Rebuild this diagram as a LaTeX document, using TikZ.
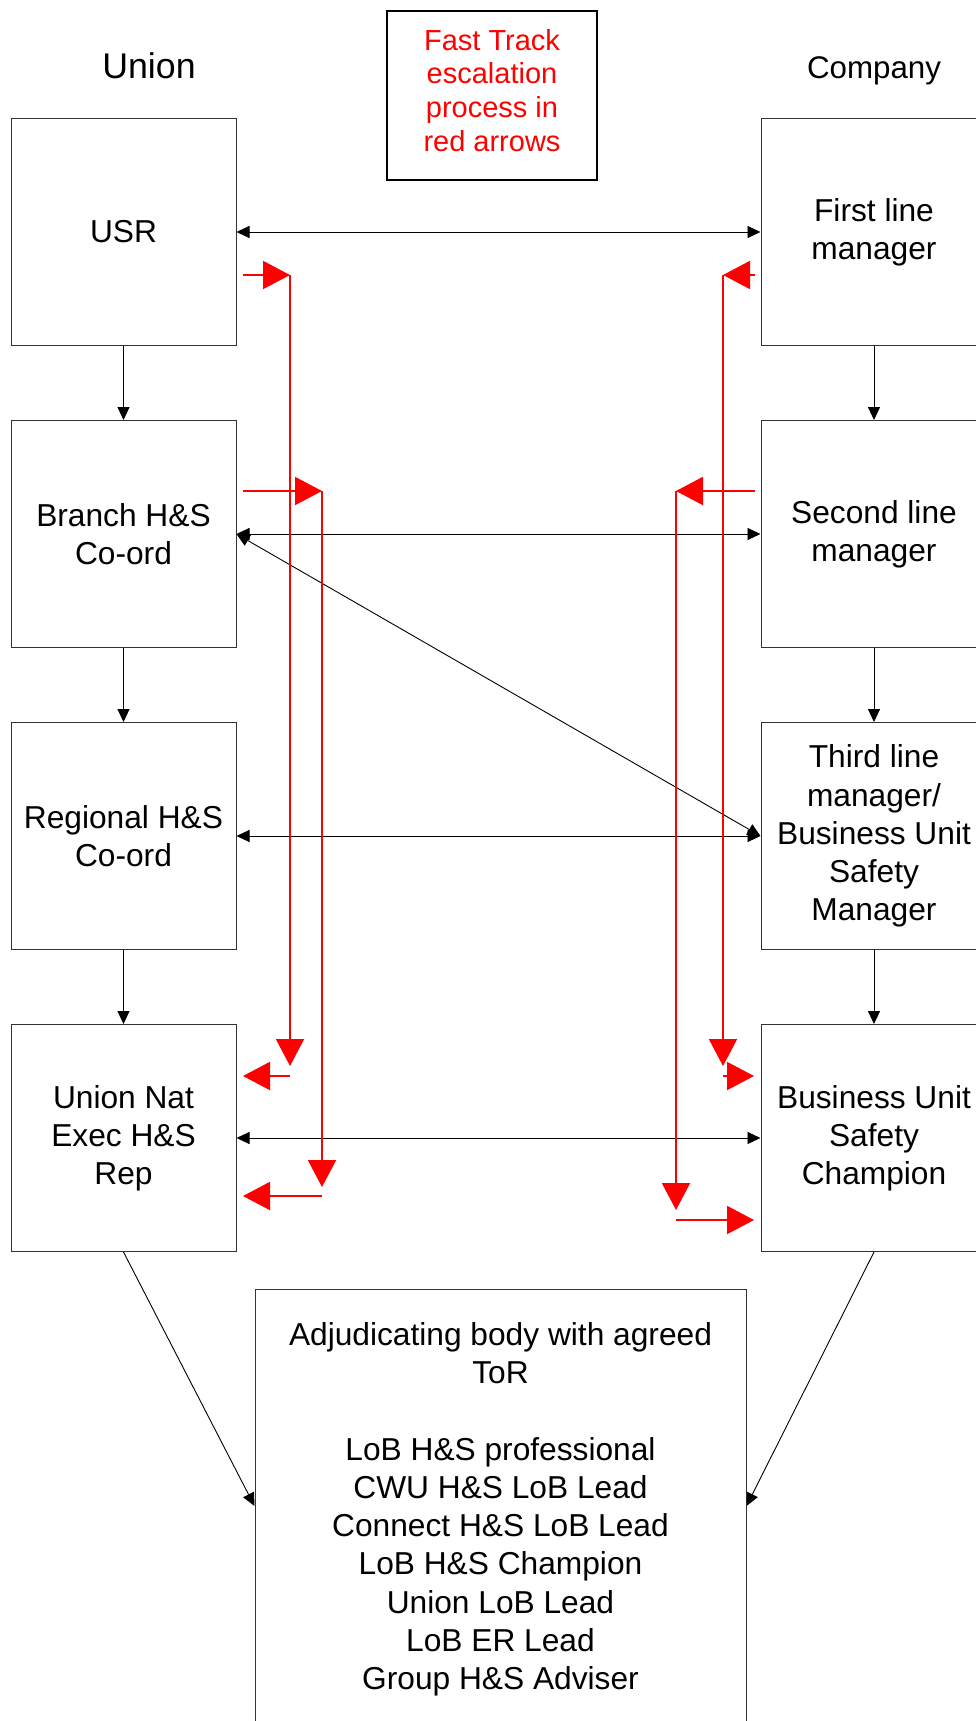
\documentclass[tikz,border=0pt]{standalone}
\usepackage{fontspec}
\setmainfont{Liberation Sans}
\usetikzlibrary{arrows.meta}
\begin{document}
\begin{tikzpicture}[x=1pt,y=-1pt,
  box/.style={draw=black!80,line width=1pt,minimum width=225pt,minimum height=227pt,inner sep=0pt,align=center,
    font=\fontsize{31.7}{38.2}\selectfont},
  blk/.style={draw=black,line width=0.9pt,-{Triangle[length=13pt,width=12pt]}},
  blk2/.style={draw=black,line width=0.9pt,{Triangle[length=13pt,width=12pt]}-{Triangle[length=13pt,width=12pt]}},
  redarr/.style={draw=red,line width=2pt,-{Triangle[length=27pt,width=28pt]}}]
\useasboundingbox (0,0) rectangle (976,1721);
\clip (0,0) rectangle (976,1721);
\fill[white] (0,0) rectangle (976,1721);
% headers
\node[font=\fontsize{35.7}{40}\selectfont,inner sep=0pt] (hu) at (149,66) {Union};
\node[font=\fontsize{31.3}{36}\selectfont,inner sep=0pt] (hc) at (874,71) {Company};
\node[draw=black,line width=2pt,minimum width=210pt,minimum height=169pt,inner sep=0pt] (ft) at (492,95.5) {};
\node[align=center,inner sep=0pt,text=red,font=\fontsize{29}{33.8}\selectfont] (ftt) at (492,90.5)
  {Fast Track\\escalation\\process in\\red arrows};
% left boxes
\node[box] (l1) at (123.5,232) {USR};
\node[box] (l2) at (123.5,534) {Branch H\&S\\Co-ord};
\node[box] (l3) at (123.5,836) {Regional H\&S\\Co-ord};
\node[box] (l4) at (123.5,1138) {Union Nat\\Exec H\&S\\Rep};
% right boxes
\node[box,minimum width=226pt] (r1) at (874,232) {First line\\manager};
\node[box,minimum width=226pt] (r2) at (874,534) {Second line\\manager};
\node[box,minimum width=226pt] (r3) at (874,836) {Third line\\manager/\\Business Unit\\Safety\\Manager};
\node[box,minimum width=226pt] (r4) at (874,1138) {Business Unit\\Safety\\Champion};
% bottom box
\node[draw=black!80,line width=1pt,minimum width=491pt,minimum height=434pt,inner sep=0pt] (bot) at (500.5,1506) {};
\node[align=center,anchor=north,inner sep=0pt,font=\fontsize{31.7}{38.2}\selectfont] (bt) at (500.5,1322.5)
  {Adjudicating body with agreed\\ToR\\[38.2pt]LoB H\&S professional\\CWU H\&S LoB Lead\\Connect H\&S LoB Lead\\LoB H\&S Champion\\Union LoB Lead\\LoB ER Lead\\Group H\&S Adviser};
% black connectors
\draw[blk] (l1.south) -- (l2.north);
\draw[blk] (l2.south) -- (l3.north);
\draw[blk] (l3.south) -- (l4.north);
\draw[blk] (r1.south) -- (r2.north);
\draw[blk] (r2.south) -- (r3.north);
\draw[blk] (r3.south) -- (r4.north);
\draw[blk2] (l1.east) -- (r1.west);
\draw[blk2] (l2.east) -- (r2.west);
\draw[blk2] (l3.east) -- (r3.west);
\draw[blk2] (l4.east) -- (r4.west);
\draw[blk2] (l2.east) -- (r3.west);
\draw[blk] (l4.south) -- (bot.west);
\draw[blk] (r4.south) -- (bot.east);
% red fast track arrows
\coordinate (a1) at (243,275); \coordinate (a2) at (290,275); \coordinate (a3) at (290,1066);
\coordinate (a4) at (290,1076); \coordinate (a5) at (243,1076);
\coordinate (b1) at (243,491); \coordinate (b2) at (322,491); \coordinate (b3) at (322,1187);
\coordinate (b4) at (322,1196); \coordinate (b5) at (243,1196);
\coordinate (c1) at (755,275); \coordinate (c2) at (723,275); \coordinate (c3) at (723,1066);
\coordinate (c4) at (723,1076); \coordinate (c5) at (754,1076);
\coordinate (d1) at (755,491); \coordinate (d2) at (676,491); \coordinate (d3) at (676,1210);
\coordinate (d4) at (676,1220); \coordinate (d5) at (754,1220);
\draw[redarr] (a1) -- (a2); \draw[redarr] (a2) -- (a3); \draw[redarr] (a4) -- (a5);
\draw[redarr] (b1) -- (b2); \draw[redarr] (b2) -- (b3); \draw[redarr] (b4) -- (b5);
\draw[redarr] (c1) -- (c2); \draw[redarr] (c2) -- (c3); \draw[redarr] (c4) -- (c5);
\draw[redarr] (d1) -- (d2); \draw[redarr] (d2) -- (d3); \draw[redarr] (d4) -- (d5);
\end{tikzpicture}
\end{document}
